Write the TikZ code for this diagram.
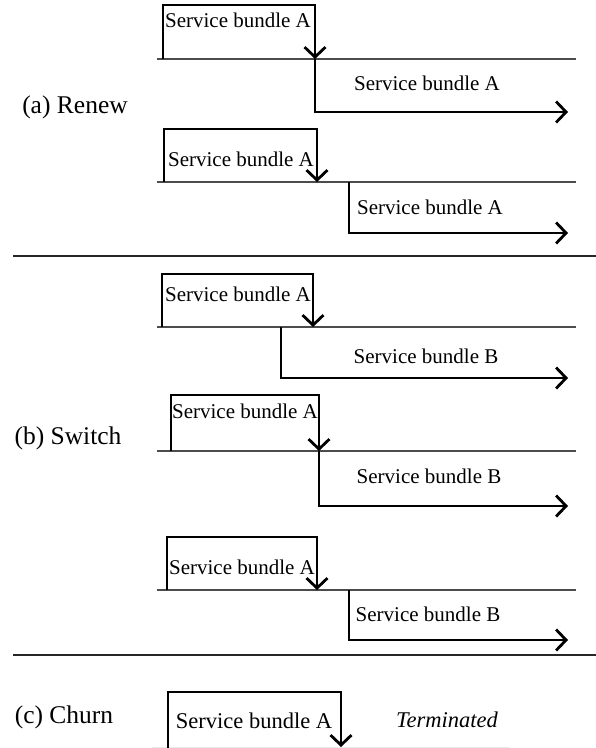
\documentclass[tikz,border=0pt]{standalone}
\usepackage{fontspec}
\setmainfont{Liberation Serif}
\usetikzlibrary{arrows.meta}
\begin{document}
\begin{tikzpicture}[x=1pt,y=-1pt,
  flow/.style={line width=2.6pt, line join=miter, -{Straight Barb[length=10pt,width=21pt,line width=2.8pt]}},
  tl/.style={draw=black!70, line width=1.3pt},
  sep/.style={draw=black!85, line width=1.5pt},
  faint/.style={draw=black!8, line width=1pt},
  txt/.style={font=\fontsize{21}{24}\selectfont, inner sep=0pt},
  ctxt/.style={font=\fontsize{22.5}{26}\selectfont, inner sep=0pt},
  paneltitle/.style={font=\fontsize{25.5}{29}\selectfont, inner sep=0pt}]
\useasboundingbox (0,0) rectangle (596,748);

% ---------- (a) Renew ----------
\node[paneltitle] (la) at (75,107) {(a) Renew};

% a1
\coordinate (a1l0) at (157,59); \coordinate (a1l1) at (576,59);
\coordinate (a1s) at (163,59); \coordinate (a1p) at (163,5);
\coordinate (a1q) at (315,5); \coordinate (a1e) at (315,59);
\coordinate (a1d) at (315,112); \coordinate (a1f) at (568,112);
\draw[tl] (a1l0) -- (a1l1);
\draw[flow] (a1s) -- (a1p) -- (a1q) -- (a1e);
\draw[flow] (a1e) -- (a1d) -- (a1f);
\node[txt] (a1t) at (238,20) {Service bundle A};
\node[txt] (a1u) at (427,83) {Service bundle A};

% a2
\coordinate (a2l0) at (157,182); \coordinate (a2l1) at (576,182);
\coordinate (a2s) at (164,182); \coordinate (a2p) at (164,129);
\coordinate (a2q) at (317,129); \coordinate (a2e) at (317,182);
\coordinate (a2b) at (349,182); \coordinate (a2d) at (349,233);
\coordinate (a2f) at (568,233);
\draw[tl] (a2l0) -- (a2l1);
\draw[flow] (a2s) -- (a2p) -- (a2q) -- (a2e);
\draw[flow] (a2b) -- (a2d) -- (a2f);
\node[txt] (a2t) at (241,159) {Service bundle A};
\node[txt] (a2u) at (430,207) {Service bundle A};

% separator
\coordinate (s1a) at (13,256); \coordinate (s1b) at (596,256);
\draw[sep] (s1a) -- (s1b);

% ---------- (b) Switch ----------
\node[paneltitle] (lb) at (68,438) {(b) Switch};

% b1
\coordinate (b1l0) at (157,327); \coordinate (b1l1) at (576,327);
\coordinate (b1s) at (162,327); \coordinate (b1p) at (162,274);
\coordinate (b1q) at (313,274); \coordinate (b1e) at (313,327);
\coordinate (b1b) at (281,327); \coordinate (b1d) at (281,378);
\coordinate (b1f) at (568,378);
\draw[tl] (b1l0) -- (b1l1);
\draw[flow] (b1s) -- (b1p) -- (b1q) -- (b1e);
\draw[flow] (b1b) -- (b1d) -- (b1f);
\node[txt] (b1t) at (238,294) {Service bundle A};
\node[txt] (b1u) at (426,356) {Service bundle B};

% b2
\coordinate (b2l0) at (157,451); \coordinate (b2l1) at (576,451);
\coordinate (b2s) at (171,451); \coordinate (b2p) at (171,395);
\coordinate (b2q) at (319,395); \coordinate (b2e) at (319,451);
\coordinate (b2d) at (319,506); \coordinate (b2f) at (568,506);
\draw[tl] (b2l0) -- (b2l1);
\draw[flow] (b2s) -- (b2p) -- (b2q) -- (b2e);
\draw[flow] (b2e) -- (b2d) -- (b2f);
\node[txt] (b2t) at (245,411) {Service bundle A};
\node[txt] (b2u) at (429,476) {Service bundle B};

% b3
\coordinate (b3l0) at (157,590); \coordinate (b3l1) at (576,590);
\coordinate (b3s) at (167,590); \coordinate (b3p) at (167,537);
\coordinate (b3q) at (317,537); \coordinate (b3e) at (317,590);
\coordinate (b3b) at (349,590); \coordinate (b3d) at (349,640);
\coordinate (b3f) at (568,640);
\draw[tl] (b3l0) -- (b3l1);
\draw[flow] (b3s) -- (b3p) -- (b3q) -- (b3e);
\draw[flow] (b3b) -- (b3d) -- (b3f);
\node[txt] (b3t) at (242,567) {Service bundle A};
\node[txt] (b3u) at (428,614) {Service bundle B};

% separator
\coordinate (s2a) at (13,655); \coordinate (s2b) at (596,655);
\draw[sep] (s2a) -- (s2b);

% ---------- (c) Churn ----------
\node[paneltitle] (lc) at (64,717) {(c) Churn};
\coordinate (cl0) at (152,747); \coordinate (cl1) at (510,747);
\coordinate (cs) at (168,748); \coordinate (cp) at (168,692);
\coordinate (cq) at (341,692); \coordinate (ce) at (341,747);
\draw[faint] (cl0) -- (cl1);
\draw[flow] (cs) -- (cp) -- (cq) -- (ce);
\node[ctxt] (ct) at (254,721) {Service bundle A};
\node[ctxt] (cterm) at (447,720) {\itshape Terminated};
\end{tikzpicture}
\end{document}
